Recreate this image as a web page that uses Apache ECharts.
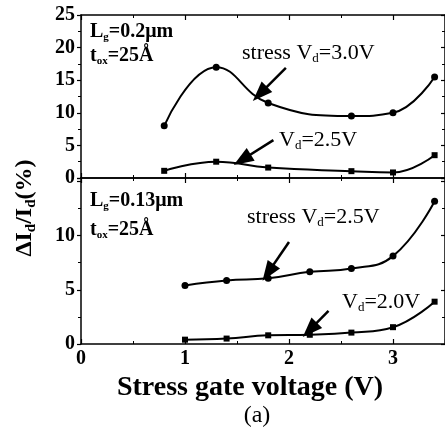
<!DOCTYPE html>
<html><head><meta charset="utf-8">
<script src="https://cdn.jsdelivr.net/npm/echarts@6/dist/echarts.min.js"></script>
<style>html,body{margin:0;padding:0;background:#fff}#c{width:445px;height:443px}</style>
</head><body><div id="c"></div>
<script>
// Data (x = stress gate voltage V, y = ΔId/Id %)
const top_vd30 = [[0.8,8.0],[1.3,17.0],[1.8,11.5],[2.6,9.5],[3.0,10.0],[3.4,15.5]];
const top_vd25 = [[0.8,1.1],[1.3,2.5],[1.8,1.6],[2.6,1.05],[3.0,0.85],[3.4,3.5]];
const bot_vd25 = [[1.0,5.4],[1.4,5.85],[1.8,6.05],[2.2,6.65],[2.6,6.95],[3.0,8.1],[3.4,13.15]];
const bot_vd20 = [[1.0,0.4],[1.4,0.5],[1.8,0.8],[2.2,0.85],[2.6,1.05],[3.0,1.55],[3.4,3.9]];
const xTicks = [0,1,2,3];
const topYTicks = [0,5,10,15,20,25];
const botYTicks = [0,5,10];
// annotation arrows in data coordinates [tail, tip]
const arrowTop30 = [[1.97,16.9],[1.72,12.9]];
const arrowTop25 = [[1.85,5.8],[1.55,2.8]];
const arrowBot25 = [[2.0,9.4],[1.8,6.6]];
const arrowBot20 = [[2.38,3.05],[2.2,1.3]];

const SERIF = "'Liberation Serif','Times New Roman',serif";
const chart = echarts.init(document.getElementById('c'), null, {renderer:'canvas'});

function xAx(grid, pos, labels){
  return {type:'value', gridIndex:grid, position:pos, min:0, max:3.5, interval:1,
    axisLine:{show:true, onZero:false, lineStyle:{color:'#000', width:1.5}},
    axisTick:{show:true, inside:true, length:5, lineStyle:{color:'#000', width:1.2}},
    minorTick:{show:true, splitNumber:2, length:3, lineStyle:{color:'#000'}},
    splitLine:{show:false},
    axisLabel:{show:labels, showMaxLabel:false, color:'#000', fontFamily:SERIF, fontWeight:'bold', fontSize:20, margin:5,
      formatter:v => xTicks.includes(v) ? String(v) : ''}};
}
function yAx(grid, pos, max, labels, ticks){
  return {type:'value', gridIndex:grid, position:pos, min:0, max:max, interval:5,
    axisLine:{show:true, onZero:false, lineStyle:{color:'#000', width:1.5}},
    axisTick:{show:true, inside:pos==='right', length:4, lineStyle:{color:'#000', width:1.2}},
    minorTick:{show:true, splitNumber:2, length:3, lineStyle:{color:'#000'}},
    splitLine:{show:false},
    axisLabel:{show:labels, showMaxLabel:labels && max===25, color:'#000', fontFamily:SERIF, fontWeight:'bold', fontSize:20, margin:6,
      formatter:v => ticks.includes(v) ? String(v) : ''}};
}
function arrow(a){
  return {silent:true, animation:false, symbol:['none','triangle'], symbolSize:[15,20],
    label:{show:false}, itemStyle:{color:'#000'}, lineStyle:{color:'#000', width:2.5, type:'solid'},
    emphasis:{disabled:true},
    data:[[{coord:a[0]},{coord:a[1]}]]};
}
function ser(x, y, data, sym, size, ml){
  return {type:'line', xAxisIndex:x, yAxisIndex:y, data:data, smooth:0.45,
    symbol:sym, symbolSize:size, showSymbol:true,
    itemStyle:{color:'#000'}, lineStyle:{color:'#000', width:2},
    markLine:arrow(ml), animation:false};
}
const rich = {
  n:{fontFamily:SERIF, fontSize:22, color:'#000', lineHeight:24},
  s:{fontFamily:SERIF, fontSize:13, color:'#000', lineHeight:4, verticalAlign:'bottom'},
  b:{fontFamily:SERIF, fontSize:20, fontWeight:'bold', color:'#000', lineHeight:22},
  bs:{fontFamily:SERIF, fontSize:11, fontWeight:'bold', color:'#000', lineHeight:2, verticalAlign:'bottom'},
  y:{fontFamily:SERIF, fontSize:24, fontWeight:'bold', color:'#000', lineHeight:28},
  ys:{fontFamily:SERIF, fontSize:15, fontWeight:'bold', color:'#000', lineHeight:6, verticalAlign:'bottom'}
};
function txt(x, y, text, extra){
  return Object.assign({type:'text', x:x, y:y, silent:true,
    style:Object.assign({text:text, rich:rich, fill:'#000', align:'left', verticalAlign:'middle'}, extra||{})});
}

chart.setOption({
  animation:false,
  backgroundColor:'#fff',
  grid:[{left:81, top:15, width:364, height:163, outerBoundsMode:'none'},
        {left:81, top:178, width:364, height:166, outerBoundsMode:'none'}],
  xAxis:[xAx(0,'bottom',false), xAx(0,'top',false), xAx(1,'bottom',true), xAx(1,'top',false)],
  yAxis:[yAx(0,'left',25,true,topYTicks), yAx(0,'right',25,false,topYTicks),
         yAx(1,'left',15.3,true,botYTicks), yAx(1,'right',15.3,false,botYTicks)],
  series:[
    ser(0,0,top_vd30,'circle',7,arrowTop30),
    ser(0,0,top_vd25,'rect',6,arrowTop25),
    ser(2,2,bot_vd25,'circle',7,arrowBot25),
    ser(2,2,bot_vd20,'rect',6,arrowBot20)
  ],
  graphic:[
    txt(90,32,'{b|L}{bs|g}{b|=0.2μm}'),
    txt(90,56,'{b|t}{bs|ox}{b|=25Å}'),
    txt(90,201,'{b|L}{bs|g}{b|=0.13μm}'),
    txt(90,230,'{b|t}{bs|ox}{b|=25Å}'),
    txt(242,53,'{n|stress V}{s|d}{n|=3.0V}'),
    txt(279,140,'{n|V}{s|d}{n|=2.5V}'),
    txt(247,217,'{n|stress V}{s|d}{n|=2.5V}'),
    txt(342,302,'{n|V}{s|d}{n|=2.0V}'),
    txt(250,388,'Stress gate voltage (V)',{align:'center', font:"bold 28px "+SERIF}),
    txt(257,416,'(a)',{align:'center', font:"24px "+SERIF}),
    {type:'text', x:25, y:208, rotation:Math.PI/2, silent:true,
      style:{text:'{y|ΔI}{ys|d}{y|/I}{ys|d}{y|(%)}', rich:rich, align:'center', verticalAlign:'middle'}}
  ]
});
</script></body></html>
